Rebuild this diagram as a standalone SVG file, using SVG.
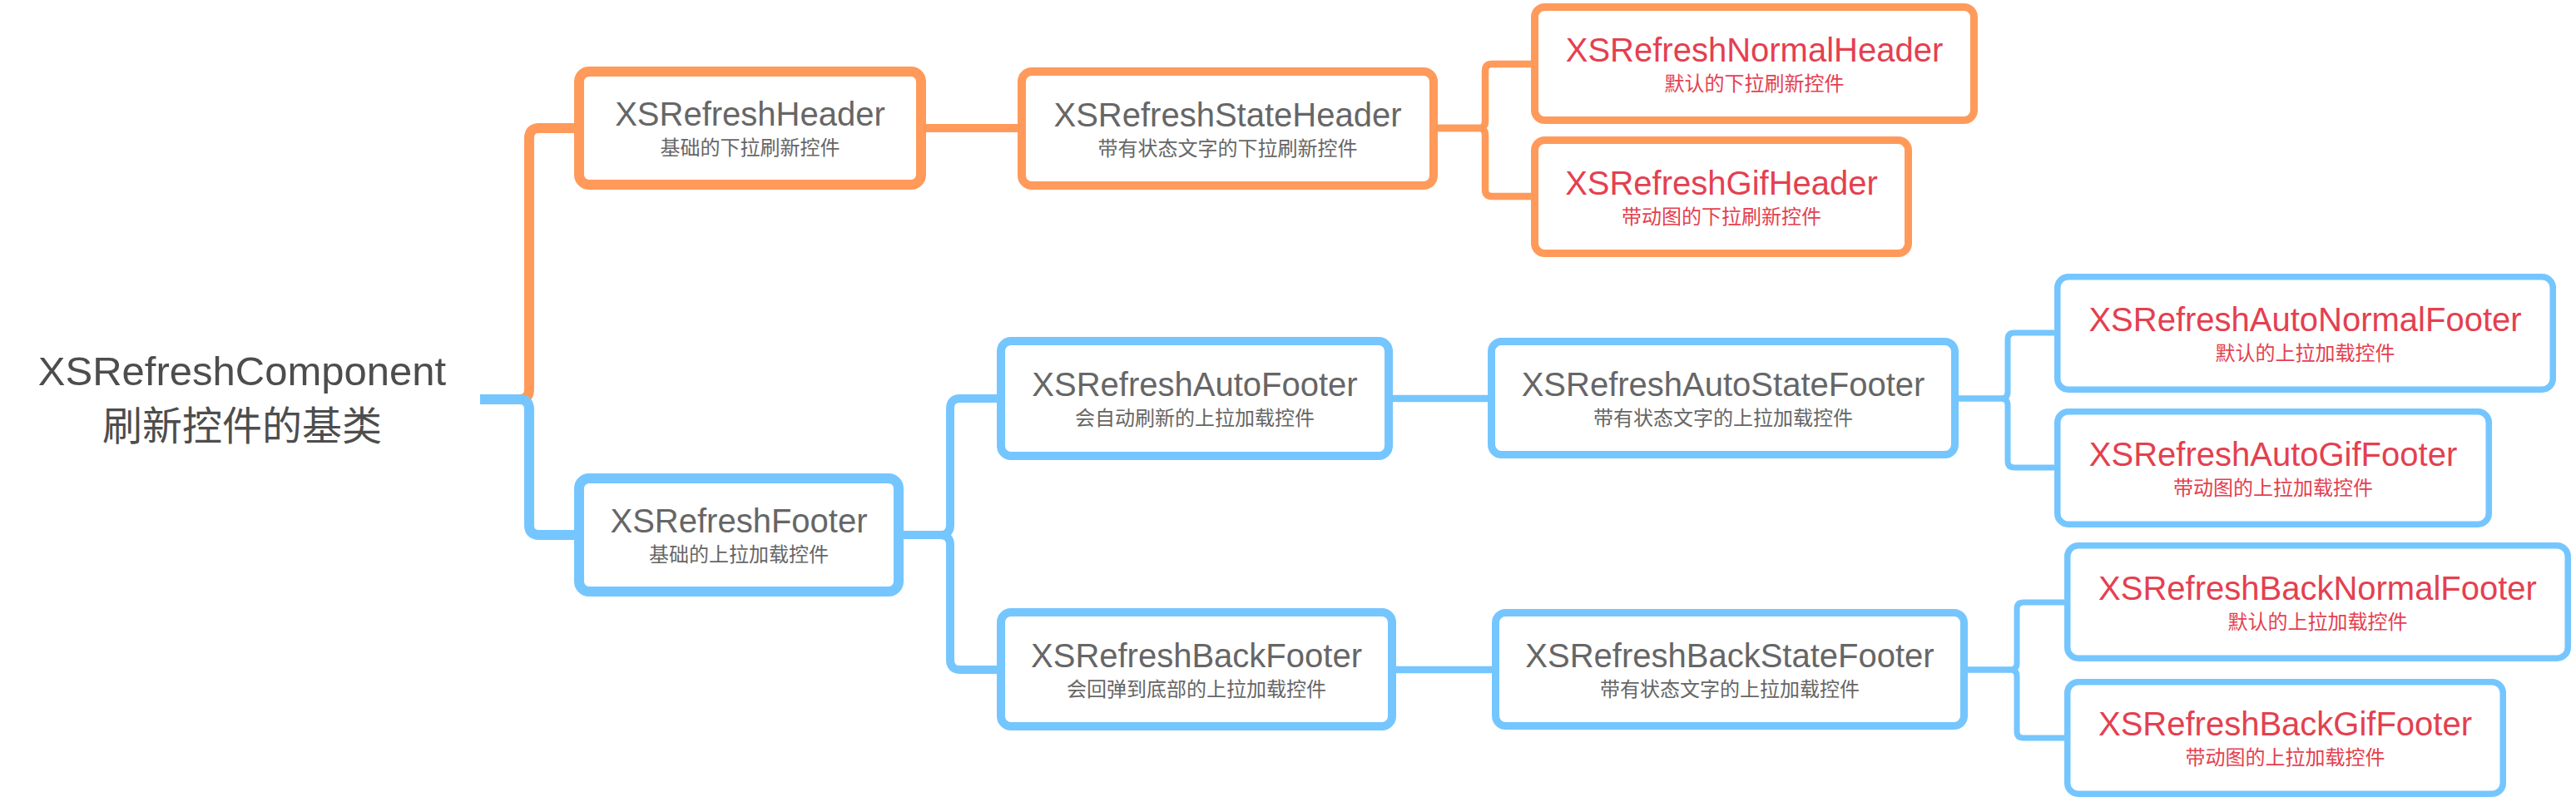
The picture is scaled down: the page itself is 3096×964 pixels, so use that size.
<svg xmlns="http://www.w3.org/2000/svg" width="3096" height="964" viewBox="0 0 3096 964">
<style>
text{font-family:"Liberation Sans","Noto Sans CJK SC",sans-serif;text-anchor:middle}
.t{font-size:40px;fill:#666666}
.s{font-size:24px;fill:#666666}
.r .t,.r .s{fill:#e4404f}
.root{fill:#4d4d4d}
rect{fill:#ffffff}
.o{stroke:#ff9a5a}
.b{stroke:#75c6fe}
.l1{stroke-width:12}
.l2{stroke-width:10}
.l3{stroke-width:9}
.l4{stroke-width:7.5}
.c path{fill:none;stroke-linecap:butt;stroke-linejoin:round}
.c0{stroke-width:12}
.c1{stroke-width:10}
.c2{stroke-width:8.5}
.c3{stroke-width:7}
</style>
<rect x="0" y="0" width="3096" height="964" fill="#ffffff"/>
<g id="connectors" class="c">
<path class="o c0" d="M577 480 H624 Q636 480 636 468 V166 Q636 154 648 154 H690"/>
<path class="b c0" d="M577 480 H624 Q636 480 636 492 V631 Q636 643 648 643 H690"/>
<path class="o c1" d="M1113 154 H1223"/>
<path class="b c1" d="M1086 643 H1130 Q1142 643 1142 631 V491 Q1142 479 1154 479 H1198"/>
<path class="b c1" d="M1086 643 H1130 Q1142 643 1142 655 V793 Q1142 805 1154 805 H1198"/>
<path class="o c2" d="M1728 154 H1777 Q1785 154 1785 146 V85 Q1785 77 1793 77 H1840"/>
<path class="o c2" d="M1728 154 H1777 Q1785 154 1785 162 V228 Q1785 236 1793 236 H1840"/>
<path class="b c2" d="M1674 479 H1788"/>
<path class="b c2" d="M1678 805 H1793"/>
<path class="b c3" d="M2354 479 H2405 Q2413 479 2413 471 V408 Q2413 400 2421 400 H2469"/>
<path class="b c3" d="M2354 479 H2405 Q2413 479 2413 487 V554 Q2413 562 2421 562 H2469"/>
<path class="b c3" d="M2365 805 H2416 Q2424 805 2424 797 V732 Q2424 724 2432 724 H2481"/>
<path class="b c3" d="M2365 805 H2416 Q2424 805 2424 813 V879 Q2424 887 2432 887 H2481"/>
</g>
<g id="root">
<text class="root" x="291" y="463" font-size="49">XSRefreshComponent</text>
<text class="root" x="291" y="529" font-size="48">刷新控件的基类</text>
</g>
<g id="header">
<rect class="o l1" x="696" y="86" width="411" height="136" rx="12"/>
<text class="t" x="901.5" y="151">XSRefreshHeader</text>
<text class="s" x="901.5" y="186">基础的下拉刷新控件</text>
</g>
<g id="footer">
<rect class="b l1" x="696" y="575" width="384" height="136" rx="12"/>
<text class="t" x="888" y="640">XSRefreshFooter</text>
<text class="s" x="888" y="675">基础的上拉加载控件</text>
</g>
<g id="stateHeader">
<rect class="o l2" x="1228" y="86" width="495" height="137" rx="12"/>
<text class="t" x="1475.5" y="151.5">XSRefreshStateHeader</text>
<text class="s" x="1475.5" y="186.5">带有状态文字的下拉刷新控件</text>
</g>
<g id="normalHeader" class="r">
<rect class="o l3" x="1844.5" y="8.5" width="528" height="136" rx="12"/>
<text class="t" x="2108.5" y="73.5">XSRefreshNormalHeader</text>
<text class="s" x="2108.5" y="108.5">默认的下拉刷新控件</text>
</g>
<g id="gifHeader" class="r">
<rect class="o l3" x="1844.5" y="168.5" width="449" height="136" rx="12"/>
<text class="t" x="2069" y="233.5">XSRefreshGifHeader</text>
<text class="s" x="2069" y="268.5">带动图的下拉刷新控件</text>
</g>
<g id="autoFooter">
<rect class="b l2" x="1203" y="410" width="466" height="138" rx="12"/>
<text class="t" x="1436" y="476">XSRefreshAutoFooter</text>
<text class="s" x="1436" y="511">会自动刷新的上拉加载控件</text>
</g>
<g id="backFooter">
<rect class="b l2" x="1203" y="736" width="470" height="137" rx="12"/>
<text class="t" x="1438" y="801.5">XSRefreshBackFooter</text>
<text class="s" x="1438" y="836.5">会回弹到底部的上拉加载控件</text>
</g>
<g id="autoStateFooter">
<rect class="b l3" x="1792.5" y="410.5" width="557" height="136" rx="12"/>
<text class="t" x="2071" y="475.5">XSRefreshAutoStateFooter</text>
<text class="s" x="2071" y="510.5">带有状态文字的上拉加载控件</text>
</g>
<g id="backStateFooter">
<rect class="b l3" x="1797.5" y="736.5" width="563" height="136" rx="12"/>
<text class="t" x="2079" y="801.5">XSRefreshBackStateFooter</text>
<text class="s" x="2079" y="836.5">带有状态文字的上拉加载控件</text>
</g>
<g id="autoNormalFooter" class="r">
<rect class="b l4" x="2472.75" y="332.75" width="595.5" height="135.5" rx="13"/>
<text class="t" x="2770.5" y="397.5">XSRefreshAutoNormalFooter</text>
<text class="s" x="2770.5" y="432.5">默认的上拉加载控件</text>
</g>
<g id="autoGifFooter" class="r">
<rect class="b l4" x="2472.75" y="494.75" width="518.5" height="135.5" rx="13"/>
<text class="t" x="2732" y="559.5">XSRefreshAutoGifFooter</text>
<text class="s" x="2732" y="594.5">带动图的上拉加载控件</text>
</g>
<g id="backNormalFooter" class="r">
<rect class="b l4" x="2484.75" y="655.75" width="601.5" height="135.5" rx="13"/>
<text class="t" x="2785.5" y="720.5">XSRefreshBackNormalFooter</text>
<text class="s" x="2785.5" y="755.5">默认的上拉加载控件</text>
</g>
<g id="backGifFooter" class="r">
<rect class="b l4" x="2484.75" y="819.75" width="523.5" height="134.5" rx="13"/>
<text class="t" x="2746.5" y="884">XSRefreshBackGifFooter</text>
<text class="s" x="2746.5" y="919">带动图的上拉加载控件</text>
</g>
</svg>
